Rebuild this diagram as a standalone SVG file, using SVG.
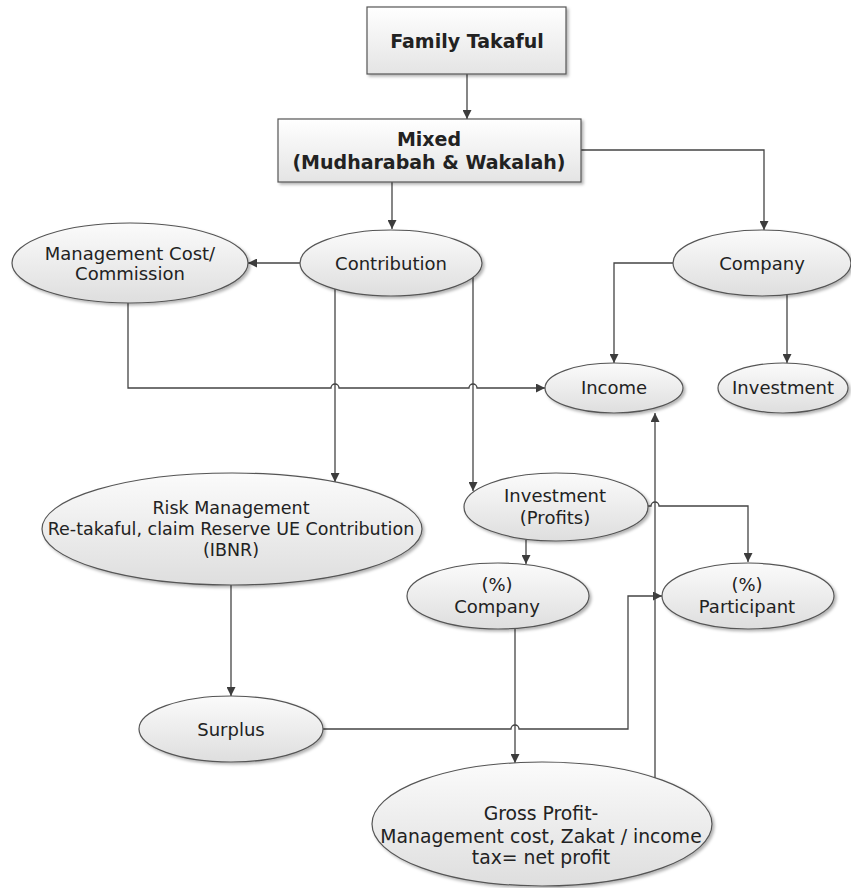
<svg xmlns="http://www.w3.org/2000/svg" width="851" height="888" viewBox="0 0 851 888">
  <defs>
    <linearGradient id="boxFill" x1="0" y1="0" x2="0" y2="1">
      <stop offset="0" stop-color="#ffffff"/>
      <stop offset="1" stop-color="#e4e4e4"/>
    </linearGradient>
    <linearGradient id="ovalFill" x1="0" y1="0" x2="0" y2="1">
      <stop offset="0" stop-color="#fbfbfb"/>
      <stop offset="1" stop-color="#dedede"/>
    </linearGradient>
    <filter id="shadow" x="-10%" y="-10%" width="125%" height="130%">
      <feDropShadow dx="2" dy="2" stdDeviation="1.5" flood-color="#000" flood-opacity="0.3"/>
    </filter>
    <marker id="arrow" viewBox="0 0 10 10" refX="10" refY="5" markerWidth="9" markerHeight="9" markerUnits="userSpaceOnUse" orient="auto">
      <path d="M0,0 L10,5 L0,10 Z" fill="#3c3c3c"/>
    </marker>
  </defs>
  <style>
    .box { fill: url(#boxFill); stroke: #555; stroke-width: 1.2; filter: url(#shadow); }
    .oval { fill: url(#ovalFill); stroke: #555; stroke-width: 1.2; filter: url(#shadow); }
    .t { font-family: "DejaVu Sans", Verdana, sans-serif; font-size: 18px; fill: #222; text-anchor: middle; dominant-baseline: central; }
    .b { font-weight: bold; font-size: 19px; }
    .s { font-size: 17.5px; }
    .l { font-size: 18.8px; }
    .link { fill: none; stroke: #444; stroke-width: 1.3; }
    .arr { marker-end: url(#arrow); }
  </style>

  <rect width="851" height="888" fill="#ffffff"/>

  <!-- connectors -->
  <g id="connectors">
    <path class="link arr" d="M467,74 V119"/>
    <path class="link arr" d="M392,182 V229"/>
    <path class="link arr" d="M581,150 H764 V230"/>
    <path class="link arr" d="M300,263 H248"/>
    <path class="link arr" d="M673,263 H614 V363"/>
    <path class="link arr" d="M787,295 V363"/>
    <!-- management cost to income, hopping over the two contribution lines -->
    <path class="link arr" d="M128,303 V388 H331 A4,4 0 0 1 339,388 H469 A4,4 0 0 1 477,388 H545"/>
    <path class="link arr" d="M335,289 V482"/>
    <path class="link arr" d="M473,277 V491"/>
    <path class="link arr" d="M526,540 V564"/>
    <path class="link arr" d="M648,506 H651 A4,4 0 0 1 659,506 H748 V562"/>
    <path class="link arr" d="M231,585 V696"/>
    <path class="link arr" d="M515,628 V763"/>
    <!-- surplus to participant, hopping over the company share line -->
    <path class="link arr" d="M323,729 H511 A4,4 0 0 1 519,729 H628 V596 H662"/>
    <path class="link arr" d="M655,779 V413"/>
  </g>

  <g id="family-takaful">
    <rect class="box" x="367" y="7" width="199" height="67"/>
    <text class="t b" x="467" y="41">Family Takaful</text>
  </g>

  <g id="mixed">
    <rect class="box" x="278" y="119" width="303" height="63"/>
    <text class="t b" x="429" y="139">Mixed</text>
    <text class="t b" x="429" y="162">(Mudharabah &amp; Wakalah)</text>
  </g>

  <g id="management-cost">
    <ellipse class="oval" cx="130" cy="263" rx="118" ry="40"/>
    <text class="t" x="130" y="253">Management Cost/</text>
    <text class="t" x="130" y="273">Commission</text>
  </g>

  <g id="contribution">
    <ellipse class="oval" cx="391" cy="263" rx="91" ry="33"/>
    <text class="t" x="391" y="263">Contribution</text>
  </g>

  <g id="company">
    <ellipse class="oval" cx="762" cy="263" rx="89" ry="33"/>
    <text class="t" x="762" y="263">Company</text>
  </g>

  <g id="income">
    <ellipse class="oval" cx="614" cy="388" rx="69" ry="25"/>
    <text class="t" x="614" y="387">Income</text>
  </g>

  <g id="investment">
    <ellipse class="oval" cx="783" cy="388" rx="65" ry="25"/>
    <text class="t" x="783" y="387">Investment</text>
  </g>

  <g id="risk-management">
    <ellipse class="oval" cx="232" cy="529" rx="190" ry="56"/>
    <text class="t s" x="231" y="508">Risk Management</text>
    <text class="t s" x="231" y="529">Re-takaful, claim Reserve UE Contribution</text>
    <text class="t s" x="231" y="550">(IBNR)</text>
  </g>

  <g id="investment-profits">
    <ellipse class="oval" cx="556" cy="507" rx="92" ry="34"/>
    <text class="t" x="555" y="495">Investment</text>
    <text class="t" x="555" y="517">(Profits)</text>
  </g>

  <g id="company-share">
    <ellipse class="oval" cx="498" cy="596" rx="91" ry="33"/>
    <text class="t" x="497" y="584">(%)</text>
    <text class="t" x="497" y="606">Company</text>
  </g>

  <g id="participant-share">
    <ellipse class="oval" cx="748" cy="596" rx="86" ry="33"/>
    <text class="t" x="747" y="584">(%)</text>
    <text class="t" x="747" y="606">Participant</text>
  </g>

  <g id="surplus">
    <ellipse class="oval" cx="231" cy="729" rx="92" ry="33"/>
    <text class="t" x="231" y="729">Surplus</text>
  </g>

  <g id="gross-profit">
    <ellipse class="oval" cx="542" cy="824" rx="170" ry="62"/>
    <text class="t l" x="541" y="813">Gross Profit-</text>
    <text class="t l" x="541" y="836">Management cost, Zakat / income</text>
    <text class="t l" x="541" y="857">tax= net profit</text>
  </g>
</svg>
